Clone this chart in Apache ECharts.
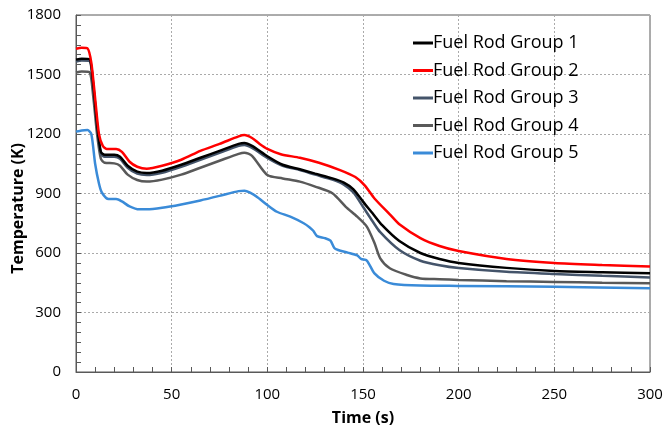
<!DOCTYPE html>
<html>
<head>
<meta charset="utf-8">
<script src="https://cdn.jsdelivr.net/npm/echarts@6/dist/echarts.min.js"></script>
<style>
  html, body { margin: 0; padding: 0; background: #fff; }
  #chart { width: 664px; height: 427px; }
</style>
</head>
<body>
<div id="chart"></div>
<script>
// time (s), temperature (K)
const group1 = [[0,1575],[3,1580],[7,1578],[9,1450],[11,1250],[13,1110],[15,1095],[20,1095],[23,1085],[27,1040],[32,1010],[37,1003],[45,1015],[55,1045],[65,1080],[75,1115],[85,1150],[88,1155],[92,1140],[100,1088],[108,1045],[117,1022],[125,1000],[134,976],[140,955],[145,921],[150,859],[155,800],[160,740],[169,660],[180,600],[190,570],[200,550],[225,525],[250,509],[275,503],[300,498]]
const group2 = [[0,1630],[3,1635],[6,1632],[8,1560],[10,1380],[12,1200],[14,1140],[16,1125],[21,1125],[24,1110],[28,1060],[32,1035],[37,1025],[45,1040],[55,1070],[65,1115],[75,1150],[85,1188],[88,1195],[92,1180],[96,1150],[100,1125],[107,1098],[117,1080],[127,1055],[138,1018],[146,983],[151,940],[156,875],[164,795],[169,745],[180,675],[190,635],[200,610],[225,570],[250,550],[275,540],[300,532]]
const group3 = [[0,1565],[3,1570],[7,1568],[9,1440],[11,1240],[13,1100],[15,1085],[20,1085],[23,1075],[27,1030],[32,1000],[37,993],[45,1005],[55,1035],[65,1070],[75,1105],[85,1140],[88,1145],[92,1130],[100,1080],[108,1040],[117,1018],[125,995],[134,970],[140,945],[145,905],[150,833],[155,760],[159,705],[169,615],[180,561],[190,538],[200,524],[225,505],[250,494],[275,485],[300,477]]
const group4 = [[0,1510],[3,1515],[7,1512],[9,1390],[11,1200],[13,1075],[15,1055],[20,1052],[23,1040],[27,995],[32,968],[37,960],[45,970],[55,995],[65,1030],[75,1065],[85,1100],[88,1106],[92,1090],[100,993],[108,976],[117,960],[125,935],[134,901],[141,833],[147,783],[152,733],[156,650],[159,573],[164,523],[173,489],[180,472],[190,468],[200,464],[225,458],[250,454],[275,450],[300,447]]
const group5 = [[0,1212],[3,1218],[6,1220],[8,1200],[10,1050],[12,950],[13.5,905],[17,872],[21,872],[24,860],[28,835],[33,820],[37,820],[45,828],[55,845],[65,865],[75,888],[85,912],[88,914],[91,904],[95,880],[100,842],[105,808],[112,783],[119,750],[122,730],[124,712],[126,685],[130,675],[133,662],[135,625],[137,615],[142,602],[147,588],[149,570],[152,562],[156,497],[161,460],[166,444],[180,436],[200,434],[250,430],[300,422]]

const names = ['Fuel Rod Group 1', 'Fuel Rod Group 2', 'Fuel Rod Group 3', 'Fuel Rod Group 4', 'Fuel Rod Group 5']
const colors = ['#000000', '#ff0000', '#44546a', '#595959', '#3a8bd8']
const data = [group1, group2, group3, group4, group5]

const font = 'Open Sans'
const axisColor = '#595959'

const myChart = echarts.init(document.getElementById('chart'))

let option = {
    animation: false,
    grid: {
        left: 76,
        right: 14,
        top: 15,
        bottom: 55,
        outerBoundsMode: 'none',
        containLabel: false,
        show: true,
        borderColor: axisColor,
        borderWidth: 1
    },
    // y axis title, placed where the original has it (a bit below the plot middle)
    graphic: [{
        type: 'text',
        left: 10,
        top: 143,
        rotation: Math.PI / 2,
        style: {
            text: 'Temperature (K)',
            fontFamily: font,
            fontSize: 16,
            fontWeight: 'bold',
            fill: '#000'
        }
    }],
    legend: {
        orient: 'vertical',
        left: 408,
        top: 29,
        itemWidth: 20,
        itemHeight: 3,
        itemGap: 9.5,
        icon: 'rect',
        data: names,
        textStyle: {
            fontFamily: font,
            fontSize: 18,
            color: '#000',
            padding: [0, 0, 0, -5]
        }
    },
    xAxis: {
        type: 'value',
        min: 0,
        max: 300,
        interval: 50,
        name: 'Time (s)',
        nameLocation: 'middle',
        nameGap: 38,
        nameTextStyle: { fontFamily: font, fontSize: 16, fontWeight: 'bold', color: '#000' },
        axisLine: { show: true, lineStyle: { color: axisColor } },
        axisTick: { show: true, inside: true, length: 5, lineStyle: { color: axisColor } },
        minorTick: { show: true, splitNumber: 5, length: 5, lineStyle: { color: axisColor } },
        axisLabel: { fontFamily: font, fontSize: 15, color: '#000', margin: 15 },
        splitLine: { show: true, lineStyle: { color: '#aaaaaa', type: [2, 2] } }
    },
    yAxis: {
        type: 'value',
        min: 0,
        max: 1800,
        interval: 300,
        axisLine: { show: true, lineStyle: { color: axisColor } },
        axisTick: { show: true, inside: true, length: 5, lineStyle: { color: axisColor } },
        minorTick: { show: true, splitNumber: 6, length: 5, lineStyle: { color: axisColor } },
        axisLabel: { fontFamily: font, fontSize: 15, color: '#000', margin: 15, formatter: v => String(v) },
        splitLine: { show: true, lineStyle: { color: '#aaaaaa', type: [2, 2] } }
    },
    series: names.map((n, i) => ({
        name: n,
        type: 'line',
        data: data[i],
        symbol: 'none',
        showSymbol: false,
        smooth: 0.25,
        z: [5, 6, 4, 3, 2][i],
        color: colors[i],
        lineStyle: { color: colors[i], width: 2.5 }
    }))
}

myChart.setOption(option)
</script>
</body>
</html>
